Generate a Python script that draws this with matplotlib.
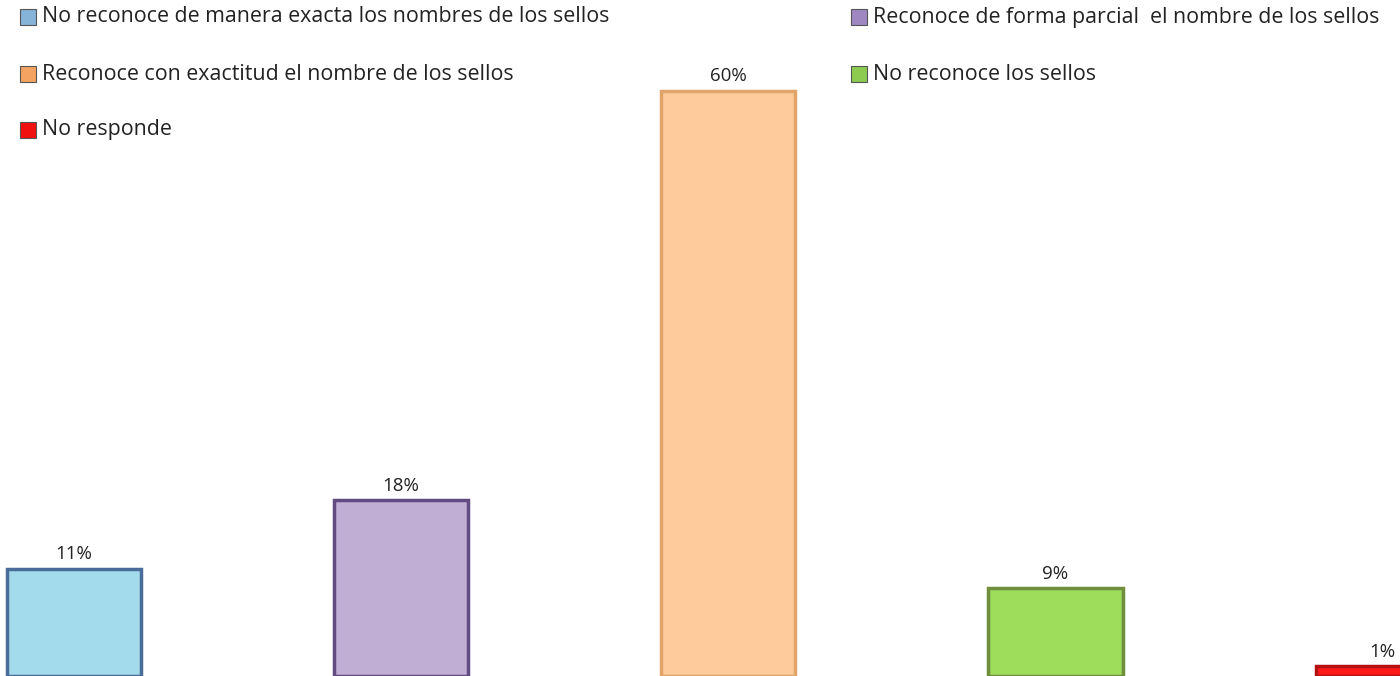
import matplotlib
matplotlib.use("Agg")
from matplotlib import pyplot as plt
from matplotlib.patches import Rectangle

categories = [
    "No reconoce de manera exacta los nombres de los sellos",
    "Reconoce de forma parcial  el nombre de los sellos",
    "Reconoce con exactitud el nombre de los sellos",
    "No reconoce los sellos",
    "No responde",
]
values = [11, 18, 60, 9, 1]
labels = ["11%", "18%", "60%", "9%", "1%"]

fills = ["#A4DBEC", "#C0AED4", "#FDCB9C", "#9EDC5B", "#FF1A1A"]
edges = ["#4A6C98", "#614B80", "#E1A468", "#6F8F3F", "#B31212"]
marks = ["#86B4D8", "#9F88C2", "#F4A460", "#8CCB50", "#F01010"]

plt.rcParams['font.family'] = ['Open Sans', 'DejaVu Sans']

fig = plt.figure(figsize=(14, 6.76), dpi=100)
ax = fig.add_axes([0, 0, 1, 1])

x = range(len(values))
ax.bar(x, values, width=0.41, color=fills, edgecolor=edges, linewidth=2.5, zorder=2)

for i, v in enumerate(values):
    ax.annotate(labels[i], (i, v), xytext=(0, 4), textcoords='offset points',
                ha='center', va='bottom', fontsize=13.5, color='#222222')

ax.set_xlim(-0.226, 4.053)
ax.set_ylim(0, 69.3)
ax.axis('off')

# legend, two columns filled row by row
W, H = 1400, 676
col_x = [20, 851]
row_y = [17, 74, 130]
for i, name in enumerate(categories):
    cx = col_x[i % 2]
    cy = row_y[i // 2]
    fig.add_artist(Rectangle((cx / W, 1 - (cy + 8) / H), 16 / W, 16 / H,
                             transform=fig.transFigure, facecolor=marks[i],
                             edgecolor='#555555', linewidth=0.8))
    fig.text((cx + 22) / W, 1 - cy / H, name, ha='left', va='center',
             fontsize=15.4, color='#222222')

fig.savefig('out.png', dpi=100)
